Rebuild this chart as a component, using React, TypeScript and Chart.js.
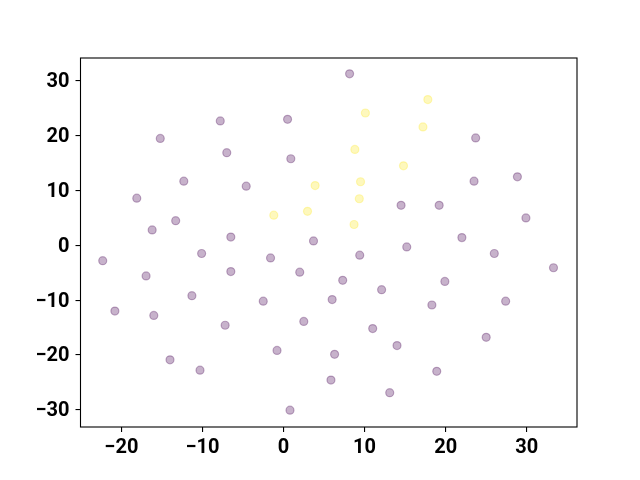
import React, { useEffect, useRef } from "react";
import { Chart, registerables } from "chart.js";

Chart.register(...registerables);

const purpleX = [-15.2, -7.8, 0.5, -7.0, 0.9, -12.3, -4.6, -18.1, -13.3, -16.2,
  8.15, 23.7, 23.5, 28.85, 14.5, 19.2, 29.9, 22.0,
  -6.5, 3.7, -22.3, -10.1, -1.6, -16.95, -6.5, 2.0, -11.3, -2.5, -20.8, -16.0, 2.5, -7.2, -0.8, -14.0, -10.3, 0.8,
  15.2, 9.4, 26.0, 33.3, 7.3, 19.9, 12.1, 6.0, 18.3, 27.4, 11.0, 25.0, 14.0, 6.3, 18.9, 5.85, 13.1];
const purpleY = [19.5, 22.7, 23.0, 16.9, 15.8, 11.7, 10.8, 8.6, 4.5, 2.8,
  31.3, 19.6, 11.7, 12.5, 7.3, 7.3, 5.0, 1.4,
  1.5, 0.8, -2.8, -1.5, -2.3, -5.6, -4.8, -4.9, -9.2, -10.2, -12.0, -12.8, -13.9, -14.6, -19.2, -20.9, -22.8, -30.1,
  -0.3, -1.8, -1.5, -4.1, -6.4, -6.6, -8.1, -9.9, -10.9, -10.2, -15.2, -16.8, -18.3, -19.9, -23.0, -24.6, -26.9];
const yellowX = [3.9, -1.2, 2.96, 17.8, 10.1, 17.2, 8.8, 14.8, 9.5, 9.35, 8.7];
const yellowY = [10.9, 5.5, 6.2, 26.6, 24.15, 21.6, 17.5, 14.5, 11.6, 8.5, 3.8];

const xTicks = [-20, -10, 0, 10, 20, 30];
const yTicks = [-30, -20, -10, 0, 10, 20, 30];

const boxPlugin = {
  id: "box",
  afterDraw(chart: any) {
    const { ctx, chartArea } = chart;
    ctx.save();
    ctx.strokeStyle = "#000";
    ctx.lineWidth = 1.1;
    ctx.strokeRect(chartArea.left, chartArea.top, chartArea.right - chartArea.left, chartArea.bottom - chartArea.top);
    ctx.restore();
  },
};

export default function App() {
  const ref = useRef<HTMLCanvasElement>(null);
  useEffect(() => {
    if (!ref.current) return;
    const purple = purpleX.map((x, i) => ({ x, y: purpleY[i] }));
    const yellow = yellowX.map((x, i) => ({ x, y: yellowY[i] }));
    const font = { family: "Roboto", size: 20, weight: "bold" as const, lineHeight: 1.2 };
    const fmt = (v: any) => String(v).replace("-", "\u2212");
    const chart = new Chart(ref.current, {
      type: "scatter",
      data: {
        datasets: [
          {
            data: purple,
            backgroundColor: "rgba(68,1,84,0.3)",
            borderColor: "rgba(68,1,84,0.3)",
            pointRadius: 4,
            borderWidth: 1.2,
          },
          {
            data: yellow,
            backgroundColor: "rgba(253,231,37,0.3)",
            borderColor: "rgba(253,231,37,0.3)",
            pointRadius: 4,
            borderWidth: 1.2,
          },
        ],
      },
      options: {
        responsive: false,
        animation: false,
        layout: { padding: { top: 58, right: 63, left: 0, bottom: 0 } },
        plugins: { legend: { display: false }, tooltip: { enabled: false } },
        scales: {
          x: {
            type: "linear",
            min: -25.04,
            max: 36.2,
            afterBuildTicks: (s: any) => { s.ticks = xTicks.map((v) => ({ value: v })); },
            afterFit: (s: any) => { s.height = 53; },
            grid: { display: true, drawOnChartArea: false, drawTicks: true, tickLength: 5, color: "#000", lineWidth: 1.1 },
            border: { display: false },
            ticks: { color: "#000", font, padding: 4, maxRotation: 0, callback: fmt },
          },
          y: {
            type: "linear",
            min: -33.17,
            max: 34.19,
            afterBuildTicks: (s: any) => { s.ticks = yTicks.map((v) => ({ value: v })); },
            afterFit: (s: any) => { s.width = 80.5; },
            grid: { display: true, drawOnChartArea: false, drawTicks: true, tickLength: 5, color: "#000", lineWidth: 1.1 },
            border: { display: false },
            ticks: { color: "#000", font, padding: 6, labelOffset: 1.5, callback: fmt },
          },
        },
      },
      plugins: [boxPlugin],
    });
    return () => chart.destroy();
  }, []);
  return (
    <div style={{ position: "fixed", left: 0, top: 0, width: 640, height: 480, background: "#fff" }}>
      <canvas ref={ref} width={640} height={480} />
    </div>
  );
}
